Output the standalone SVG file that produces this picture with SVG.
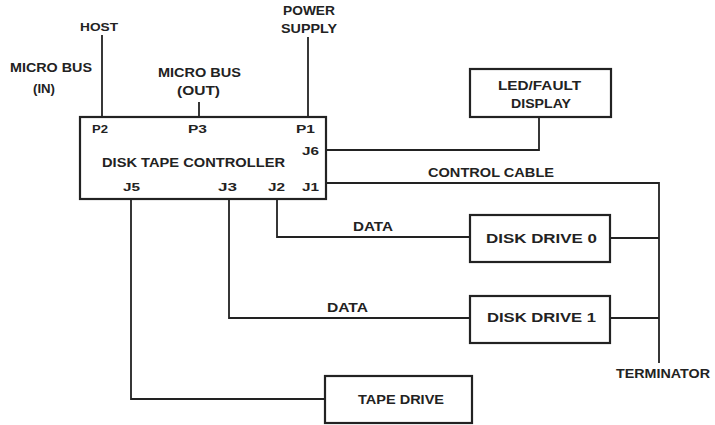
<svg xmlns="http://www.w3.org/2000/svg" width="715" height="425" viewBox="0 0 715 425">
<style>
  text { font-family: "Liberation Sans", Arial, sans-serif; font-weight: bold; fill: #222; }
  .s { font-size: 11px; }
  .m { font-size: 12px; }
  .l { font-size: 13.5px; }
  .box { fill: #fff; stroke: #222; stroke-width: 2.2; }
  .wire { fill: none; stroke: #222; stroke-width: 1.8; }
</style>
<rect width="715" height="425" fill="#fff"/>
<g id="connectors">
  <path class="wire" d="M102,35 V117"/>
  <path class="wire" d="M199,102 V117"/>
  <path class="wire" d="M308,37 V117"/>
  <path class="wire" d="M326,150 H539 V117"/>
  <path class="wire" d="M326,183 H659 V363"/>
  <path class="wire" d="M277,199 V237 H470"/>
  <path class="wire" d="M229,199 V318 H470"/>
  <path class="wire" d="M131,199 V399 H325"/>
  <path class="wire" d="M610,238 H659"/>
  <path class="wire" d="M610,318 H659"/>
  <text class="l" x="353" y="231" textLength="40" lengthAdjust="spacingAndGlyphs">DATA</text>
  <text class="l" x="327" y="312" textLength="41" lengthAdjust="spacingAndGlyphs">DATA</text>
  <text class="l" x="428" y="177" textLength="126" lengthAdjust="spacingAndGlyphs">CONTROL CABLE</text>
</g>
<g id="host">
  <text class="s" x="80" y="31" textLength="38" lengthAdjust="spacingAndGlyphs">HOST</text>
</g>
<g id="micro-bus-in">
  <text class="m" x="10" y="72" textLength="82" lengthAdjust="spacingAndGlyphs">MICRO BUS</text>
  <text class="m" x="33" y="93" textLength="22" lengthAdjust="spacingAndGlyphs">(IN)</text>
</g>
<g id="micro-bus-out">
  <text class="m" x="158" y="77" textLength="83" lengthAdjust="spacingAndGlyphs">MICRO BUS</text>
  <text class="m" x="177" y="95" textLength="43" lengthAdjust="spacingAndGlyphs">(OUT)</text>
</g>
<g id="power-supply">
  <text class="m" x="283" y="15" textLength="52" lengthAdjust="spacingAndGlyphs">POWER</text>
  <text class="m" x="281" y="33" textLength="56" lengthAdjust="spacingAndGlyphs">SUPPLY</text>
</g>
<g id="controller">
  <rect class="box" x="80" y="117" width="246" height="82"/>
  <text class="s" x="92" y="133" textLength="16" lengthAdjust="spacingAndGlyphs">P2</text>
  <text class="s" x="188" y="133" textLength="19" lengthAdjust="spacingAndGlyphs">P3</text>
  <text class="s" x="296" y="133" textLength="19" lengthAdjust="spacingAndGlyphs">P1</text>
  <text class="s" x="302" y="155" textLength="17" lengthAdjust="spacingAndGlyphs">J6</text>
  <text class="l" x="102" y="167" textLength="183" lengthAdjust="spacingAndGlyphs">DISK TAPE CONTROLLER</text>
  <text class="s" x="123" y="191" textLength="17" lengthAdjust="spacingAndGlyphs">J5</text>
  <text class="s" x="218" y="191" textLength="19" lengthAdjust="spacingAndGlyphs">J3</text>
  <text class="s" x="268" y="191" textLength="17" lengthAdjust="spacingAndGlyphs">J2</text>
  <text class="s" x="302" y="191" textLength="17" lengthAdjust="spacingAndGlyphs">J1</text>
</g>
<g id="led-display">
  <rect class="box" x="470" y="69" width="141" height="48"/>
  <text class="m" x="498" y="90" textLength="83" lengthAdjust="spacingAndGlyphs">LED/FAULT</text>
  <text class="m" x="511" y="108" textLength="60" lengthAdjust="spacingAndGlyphs">DISPLAY</text>
</g>
<g id="disk-drive-0">
  <rect class="box" x="470" y="215" width="140" height="47"/>
  <text class="l" x="486" y="243" textLength="111" lengthAdjust="spacingAndGlyphs">DISK DRIVE 0</text>
</g>
<g id="disk-drive-1">
  <rect class="box" x="470" y="296" width="140" height="47"/>
  <text class="l" x="487" y="322" textLength="109" lengthAdjust="spacingAndGlyphs">DISK DRIVE 1</text>
</g>
<g id="terminator">
  <text class="m" x="616" y="378" textLength="94" lengthAdjust="spacingAndGlyphs">TERMINATOR</text>
</g>
<g id="tape-drive">
  <rect class="box" x="325" y="376" width="147" height="47"/>
  <text class="l" x="358" y="404" textLength="86" lengthAdjust="spacingAndGlyphs">TAPE DRIVE</text>
</g>
</svg>
